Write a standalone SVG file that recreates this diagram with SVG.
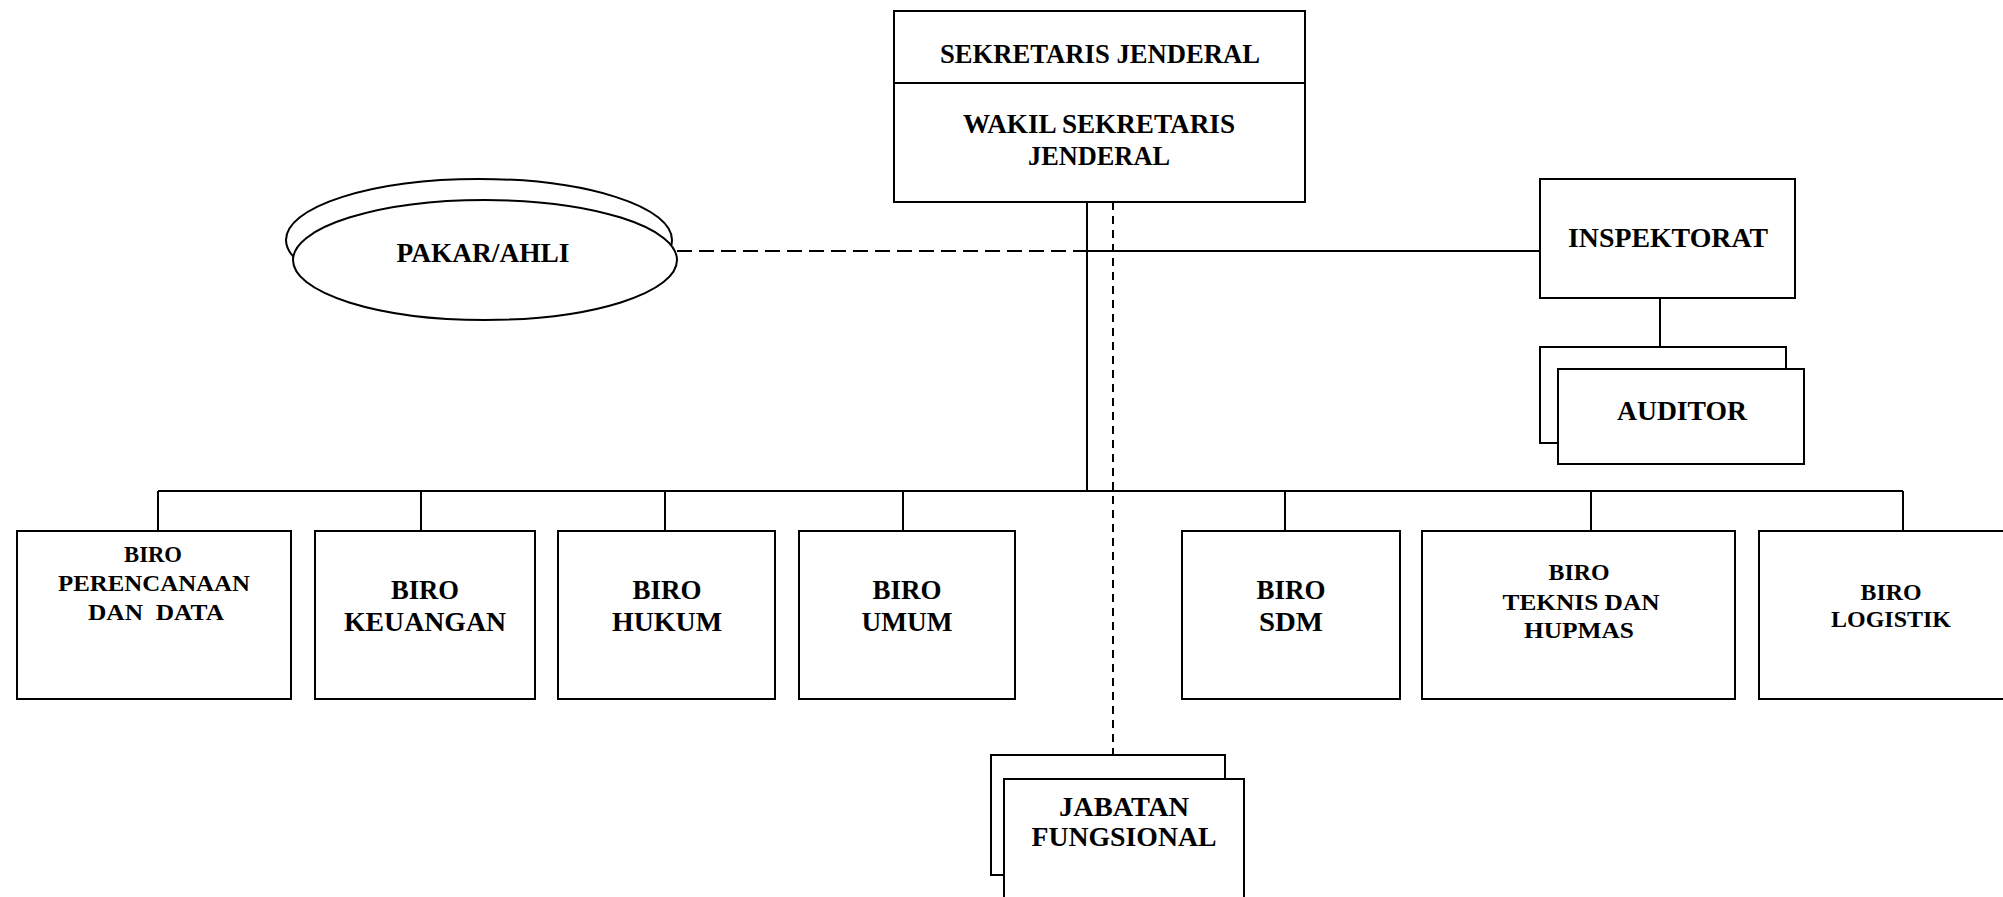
<svg xmlns="http://www.w3.org/2000/svg" width="2003" height="897" viewBox="0 0 2003 897">
<style>
.box{fill:#fff;stroke:#000;stroke-width:2}
.ln{fill:none;stroke:#000;stroke-width:2}
.dh{fill:none;stroke:#000;stroke-width:2;stroke-dasharray:15 7}
.dv{fill:none;stroke:#000;stroke-width:2;stroke-dasharray:8 6}
text{font-family:"Liberation Serif","Times New Roman",serif;font-weight:bold;fill:#000;text-anchor:middle}
.t{font-size:27px}
.b{font-size:28px}
.s{font-size:23px}
</style>
<rect width="2003" height="897" fill="#fff"/>
<g id="connectors">
<line class="dh" x1="677" y1="251" x2="1087" y2="251"/>
<line class="ln" x1="1087" y1="251" x2="1540" y2="251"/>
<line class="ln" x1="1087" y1="202" x2="1087" y2="491"/>
<line class="dv" x1="1113" y1="202" x2="1113" y2="755"/>
<line class="ln" x1="1660" y1="298" x2="1660" y2="347"/>
<line class="ln" x1="158" y1="491" x2="1903" y2="491"/>
<line class="ln" x1="158" y1="491" x2="158" y2="531"/>
<line class="ln" x1="421" y1="491" x2="421" y2="531"/>
<line class="ln" x1="665" y1="491" x2="665" y2="531"/>
<line class="ln" x1="903" y1="491" x2="903" y2="531"/>
<line class="ln" x1="1285" y1="491" x2="1285" y2="531"/>
<line class="ln" x1="1591" y1="491" x2="1591" y2="531"/>
<line class="ln" x1="1903" y1="491" x2="1903" y2="531"/>
</g>
<g id="sekjen">
<rect class="box" x="894" y="11" width="411" height="191"/>
<line class="ln" x1="894" y1="83" x2="1305" y2="83"/>
<text class="t" x="1100" y="63" textLength="320" lengthAdjust="spacingAndGlyphs">SEKRETARIS JENDERAL</text>
<text class="t" x="1099" y="133" textLength="272" lengthAdjust="spacingAndGlyphs">WAKIL SEKRETARIS</text>
<text class="t" x="1099" y="165" textLength="142" lengthAdjust="spacingAndGlyphs">JENDERAL</text>
</g>
<g id="pakar">
<ellipse class="box" cx="479" cy="240" rx="193" ry="61"/>
<ellipse class="box" cx="485" cy="260" rx="192" ry="60"/>
<text class="t" x="483" y="262" textLength="173" lengthAdjust="spacingAndGlyphs">PAKAR/AHLI</text>
</g>
<g id="inspektorat">
<rect class="box" x="1540" y="179" width="255" height="119"/>
<text class="t" x="1668" y="247" textLength="200" lengthAdjust="spacingAndGlyphs">INSPEKTORAT</text>
</g>
<g id="auditor">
<rect class="box" x="1540" y="347" width="246" height="96"/>
<rect class="box" x="1558" y="369" width="246" height="95"/>
<text class="t" x="1682" y="420" textLength="130" lengthAdjust="spacingAndGlyphs">AUDITOR</text>
</g>
<g id="biro-perencanaan">
<rect class="box" x="17" y="531" width="274" height="168"/>
<text class="s" x="153" y="562" textLength="58" lengthAdjust="spacingAndGlyphs">BIRO</text>
<text class="s" x="154" y="591" textLength="192" lengthAdjust="spacingAndGlyphs">PERENCANAAN</text>
<text class="s" x="156" y="620" textLength="136" lengthAdjust="spacingAndGlyphs" xml:space="preserve">DAN  DATA</text>
</g>
<g id="biro-keuangan">
<rect class="box" x="315" y="531" width="220" height="168"/>
<text class="b" x="425" y="599" textLength="68" lengthAdjust="spacingAndGlyphs">BIRO</text>
<text class="b" x="425" y="631" textLength="162" lengthAdjust="spacingAndGlyphs">KEUANGAN</text>
</g>
<g id="biro-hukum">
<rect class="box" x="558" y="531" width="217" height="168"/>
<text class="b" x="667" y="599" textLength="69" lengthAdjust="spacingAndGlyphs">BIRO</text>
<text class="b" x="667" y="631" textLength="110" lengthAdjust="spacingAndGlyphs">HUKUM</text>
</g>
<g id="biro-umum">
<rect class="box" x="799" y="531" width="216" height="168"/>
<text class="b" x="907" y="599" textLength="69" lengthAdjust="spacingAndGlyphs">BIRO</text>
<text class="b" x="907" y="631" textLength="91" lengthAdjust="spacingAndGlyphs">UMUM</text>
</g>
<g id="biro-sdm">
<rect class="box" x="1182" y="531" width="218" height="168"/>
<text class="b" x="1291" y="599" textLength="69" lengthAdjust="spacingAndGlyphs">BIRO</text>
<text class="b" x="1291" y="631" textLength="64" lengthAdjust="spacingAndGlyphs">SDM</text>
</g>
<g id="biro-teknis">
<rect class="box" x="1422" y="531" width="313" height="168"/>
<text class="s" x="1579" y="580" textLength="61" lengthAdjust="spacingAndGlyphs">BIRO</text>
<text class="s" x="1581" y="610" textLength="157" lengthAdjust="spacingAndGlyphs">TEKNIS DAN</text>
<text class="s" x="1579" y="638" textLength="110" lengthAdjust="spacingAndGlyphs">HUPMAS</text>
</g>
<g id="biro-logistik">
<rect class="box" x="1759" y="531" width="260" height="168"/>
<text class="s" x="1891" y="600" textLength="61" lengthAdjust="spacingAndGlyphs">BIRO</text>
<text class="s" x="1891" y="627" textLength="120" lengthAdjust="spacingAndGlyphs">LOGISTIK</text>
</g>
<g id="jabatan-fungsional">
<rect class="box" x="991" y="755" width="234" height="120"/>
<rect class="box" x="1004" y="779" width="240" height="130"/>
<text class="t" x="1124" y="816" textLength="130" lengthAdjust="spacingAndGlyphs">JABATAN</text>
<text class="t" x="1124" y="846" textLength="185" lengthAdjust="spacingAndGlyphs">FUNGSIONAL</text>
</g>
</svg>
